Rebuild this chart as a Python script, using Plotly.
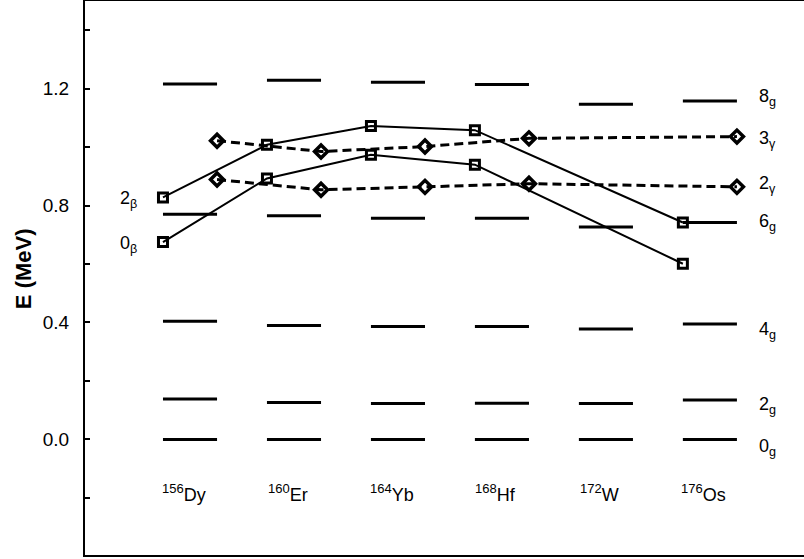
import plotly.graph_objects as go

# ---- data ----
nuclei_mass = ["156", "160", "164", "168", "172", "176"]
nuclei_sym = ["Dy", "Er", "Yb", "Hf", "W", "Os"]

# ground band levels (MeV): 0g, 2g, 4g, 6g, 8g per nucleus
ground_0 = [0.0, 0.0, 0.0, 0.0, 0.0, 0.0]
ground_2 = [0.138, 0.126, 0.123, 0.124, 0.123, 0.135]
ground_4 = [0.404, 0.390, 0.386, 0.386, 0.378, 0.395]
ground_6 = [0.770, 0.765, 0.757, 0.757, 0.727, 0.742]
ground_8 = [1.216, 1.229, 1.222, 1.214, 1.147, 1.158]

# beta band (squares); W has no point
beta_idx = [0, 1, 2, 3, 5]
beta_0 = [0.675, 0.893, 0.974, 0.940, 0.601]
beta_2 = [0.828, 1.008, 1.072, 1.058, 0.742]

# gamma band (diamonds); W has no point
gamma_idx = [0, 1, 2, 3, 5]
gamma_2 = [0.889, 0.854, 0.864, 0.875, 0.864]
gamma_3 = [1.022, 0.985, 1.002, 1.030, 1.036]

right_labels = ["8<sub>g</sub>", "3<sub>γ</sub>", "2<sub>γ</sub>", "6<sub>g</sub>",
                "4<sub>g</sub>", "2<sub>g</sub>", "0<sub>g</sub>"]
left_labels = ["2<sub>β</sub>", "0<sub>β</sub>"]

# ---- figure ----
HALF = 0.26
FONT = "Liberation Sans, Arial, Helvetica, sans-serif"

fig = go.Figure()

# level lines
lx, ly = [], []
for levels in [ground_0, ground_2, ground_4, ground_6, ground_8]:
    for i, e in enumerate(levels):
        lx += [i - HALF, i + HALF, None]
        ly += [e, e, None]
fig.add_trace(go.Scatter(x=lx, y=ly, mode="lines",
                         line=dict(color="black", width=3), hoverinfo="skip"))

# beta band
for vals in [beta_0, beta_2]:
    fig.add_trace(go.Scatter(
        x=[i - HALF for i in beta_idx], y=vals, mode="lines+markers",
        line=dict(color="black", width=2),
        marker=dict(symbol="square-open", size=9, color="black",
                    line=dict(width=3, color="black"))))

# gamma band
for vals in [gamma_2, gamma_3]:
    fig.add_trace(go.Scatter(
        x=[i + HALF for i in gamma_idx], y=vals, mode="lines+markers",
        line=dict(color="black", width=3, dash="9px,5px"),
        marker=dict(symbol="diamond-open", size=10, color="black",
                    line=dict(width=3.5, color="black"))))

ann = []
# nucleus labels
for i, (m, s) in enumerate(zip(nuclei_mass, nuclei_sym)):
    ann.append(dict(x=i - 0.06, y=-0.175, xref="x", yref="y", yshift=-2,
                    text=f"<sup><span style='font-size:13px'>{m}</span></sup>{s}",
                    showarrow=False,
                    font=dict(size=18, family=FONT, color="black"),
                    xanchor="center", yanchor="middle"))

# right labels tied to Os levels
os_i = 5
right_y = [ground_8[os_i], gamma_3[-1], gamma_2[-1], ground_6[os_i],
           ground_4[os_i], ground_2[os_i], ground_0[os_i]]
right_shift = [3, -3, 2, 0, -7, -6, -8]
for t, yv, sh in zip(right_labels, right_y, right_shift):
    ann.append(dict(x=os_i + HALF, y=yv, xref="x", yref="y", text=t,
                    showarrow=False, xanchor="left", yanchor="middle",
                    xshift=20, yshift=sh,
                    font=dict(size=18, family=FONT, color="black")))

# left labels tied to Dy beta points
for t, yv in zip(left_labels, [beta_2[0], beta_0[0]]):
    ann.append(dict(x=-HALF, y=yv, xref="x", yref="y", text=t,
                    showarrow=False, xanchor="right", yanchor="middle",
                    xshift=-24, yshift=-2,
                    font=dict(size=18, family=FONT, color="black")))

# y title
ann.append(dict(x=-62 / 719, y=0.516, xref="paper", yref="paper",
                text="<b>E (MeV)</b>", textangle=-90, showarrow=False,
                xanchor="center", yanchor="middle",
                font=dict(size=22, family=FONT, color="black")))

fig.update_layout(
    width=804, height=559,
    margin=dict(l=85, r=0, t=1, b=4),
    paper_bgcolor="white", plot_bgcolor="white",
    showlegend=False,
    annotations=ann,
    xaxis=dict(range=[-1.01, 5.905], showgrid=False, zeroline=False,
               showticklabels=False, ticks="", showline=True, mirror=True,
               linecolor="black", linewidth=2),
    yaxis=dict(range=[-0.3956, 1.5], showgrid=False, zeroline=False,
               tickvals=[0.0, 0.4, 0.8, 1.2], ticktext=["0.0", "0.4", "0.8", "1.2"],
               ticks="inside", ticklen=5, tickwidth=1.5, tickcolor="black",
               minor=dict(tickvals=[-0.2, 0.2, 0.6, 1.0, 1.4], ticks="inside",
                          ticklen=5, tickwidth=1.5, tickcolor="black"),
               ticklabelstandoff=10,
               tickfont=dict(size=19, family=FONT, color="black"),
               showline=True, mirror=False, linecolor="black", linewidth=2),
)

fig.write_html("out.html",
               config={"displayModeBar": False},
               post_script="document.body.style.margin='0px';"
                           "document.body.style.overflow='hidden';")
